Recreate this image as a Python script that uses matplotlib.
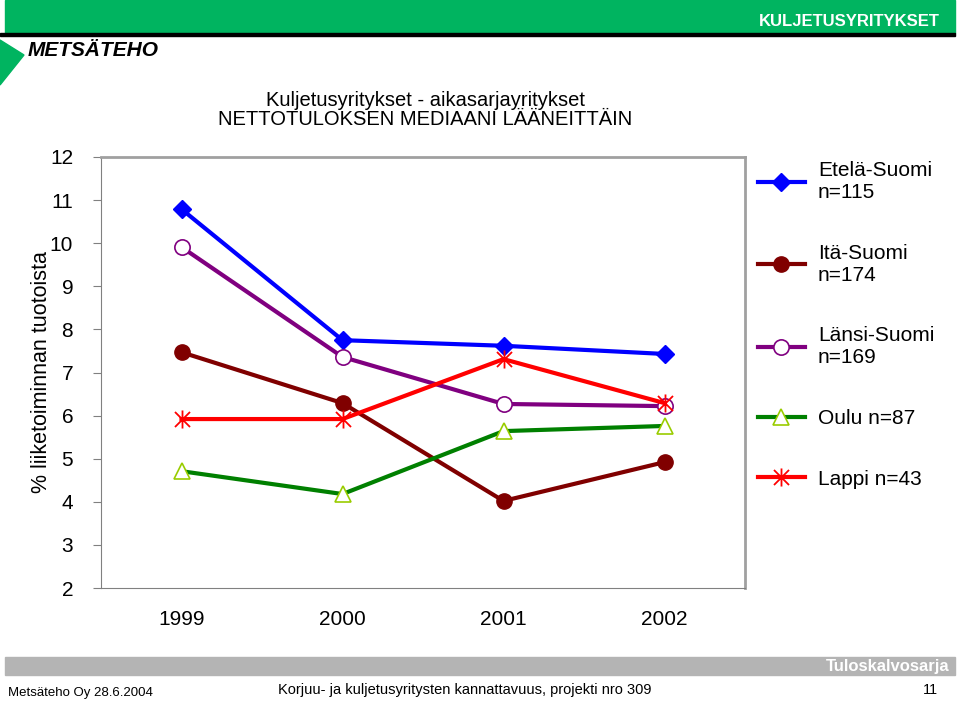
import matplotlib.pyplot as plt
import matplotlib.patches as mpatches
from matplotlib.path import Path

# ---------- Data ----------
years = ["1999", "2000", "2001", "2002"]
etela = [10.79, 7.75, 7.62, 7.43]
ita = [7.47, 6.29, 4.02, 4.92]
lansi = [9.91, 7.36, 6.27, 6.22]
oulu = [4.71, 4.18, 5.64, 5.76]
lappi = [5.92, 5.92, 7.31, 6.29]
labels = ["Etelä-Suomi\nn=115", "Itä-Suomi\nn=174", "Länsi-Suomi\nn=169", "Oulu n=87", "Lappi n=43"]
y_ticks = list(range(2, 13))

W, H = 960, 705
plt.rcParams["font.family"] = "Liberation Sans"
fig = plt.figure(figsize=(9.6, 7.05), dpi=100)

def box(x, y, w, h):
    # pixel box (top-left origin) -> figure fraction
    return [x / W, 1 - (y + h) / H, w / W, h / H]

# asterisk marker: X with a vertical stroke
star = Path([(-1, -1), (1, 1), (-1, 1), (1, -1), (0, -1.2), (0, 1.2)],
            [Path.MOVETO, Path.LINETO, Path.MOVETO, Path.LINETO, Path.MOVETO, Path.LINETO])

# ---------- Header / footer ----------
fig.patches.append(mpatches.Rectangle((5 / W, 1 - 33 / H), 950 / W, 33 / H, transform=fig.transFigure, color="#00b460"))
fig.patches.append(mpatches.Rectangle((0, 1 - 36 / H), 955 / W, 3 / H, transform=fig.transFigure, color="black"))
fig.text(940 / W, 1 - 21 / H, "KULJETUSYRITYKSET", color="white", fontsize=12, fontweight="bold", ha="right", va="center")
fig.text(28 / W, 1 - 50 / H, "METSÄTEHO", fontsize=15, fontweight="bold", style="italic", va="center")
fig.patches.append(mpatches.Polygon([(0, 1 - 40 / H), (24 / W, 1 - 55 / H), (0, 1 - 85 / H)], transform=fig.transFigure, color="#00b460"))
fig.patches.append(mpatches.Rectangle((5 / W, 1 - 675 / H), 950 / W, 18 / H, transform=fig.transFigure, color="#b4b4b4"))
fig.text(950 / W, 1 - 667 / H, "Tuloskalvosarja", color="white", fontsize=12, fontweight="bold", ha="right", va="center")
fig.text(8 / W, 1 - 693 / H, "Metsäteho Oy 28.6.2004", fontsize=9.5, va="center")
fig.text(465 / W, 1 - 690 / H, "Korjuu- ja kuljetusyritysten kannattavuus, projekti nro 309", fontsize=10.5, ha="center", va="center")
fig.text(938 / W, 1 - 690 / H, "11", fontsize=10.5, ha="right", va="center")

fig.text(425 / W, 1 - 110 / H, "Kuljetusyritykset - aikasarjayritykset\nNETTOTULOKSEN MEDIAANI LÄÄNEITTÄIN",
         fontsize=14.5, ha="center", va="center", linespacing=1.05)
fig.text(42 / W, 1 - 372 / H, "% liiketoiminnan tuotoista", fontsize=15.5, rotation=90, ha="center", va="center")

# ---------- Plot ----------
ax = fig.add_axes(box(101, 157, 644, 431))
x = range(len(years))
ax.plot(x, etela, color="#0000ff", lw=3, marker="D", ms=9, label=labels[0])
ax.plot(x, ita, color="#800000", lw=3, marker="o", ms=11, label=labels[1])
ax.plot(x, lansi, color="#800080", lw=3, marker="o", ms=11, mfc="white", mec="#800080", mew=1.2, label=labels[2])
ax.plot(x, oulu, color="#008000", lw=3, marker="^", ms=12, mfc="white", mec="#99cc00", mew=1.2, label=labels[3])
ax.plot(x, lappi, color="#ff0000", lw=3, marker=star, ms=13, mec="#ff0000", mew=1.3, label=labels[4])
ax.set_xlim(-0.5, 3.5)
ax.set_ylim(2, 12)
ax.set_yticks(y_ticks)
ax.set_xticks(list(x))
ax.set_xticklabels(years)
ax.tick_params(axis="y", labelsize=15, length=6, direction="out", pad=14, color="#808080")
ax.tick_params(axis="x", labelsize=15, length=0, pad=16)
for side in ["top", "right"]:
    ax.spines[side].set_color("#a0a0a0")
    ax.spines[side].set_linewidth(2)
for side in ["left", "bottom"]:
    ax.spines[side].set_color("#808080")

ax.legend(loc="upper left", bbox_to_anchor=(1.0, 1.02), frameon=False, fontsize=15,
          labelspacing=2.0, handlelength=2.3, handletextpad=0.6, borderaxespad=0.2)

fig.savefig("out.png", dpi=100)
